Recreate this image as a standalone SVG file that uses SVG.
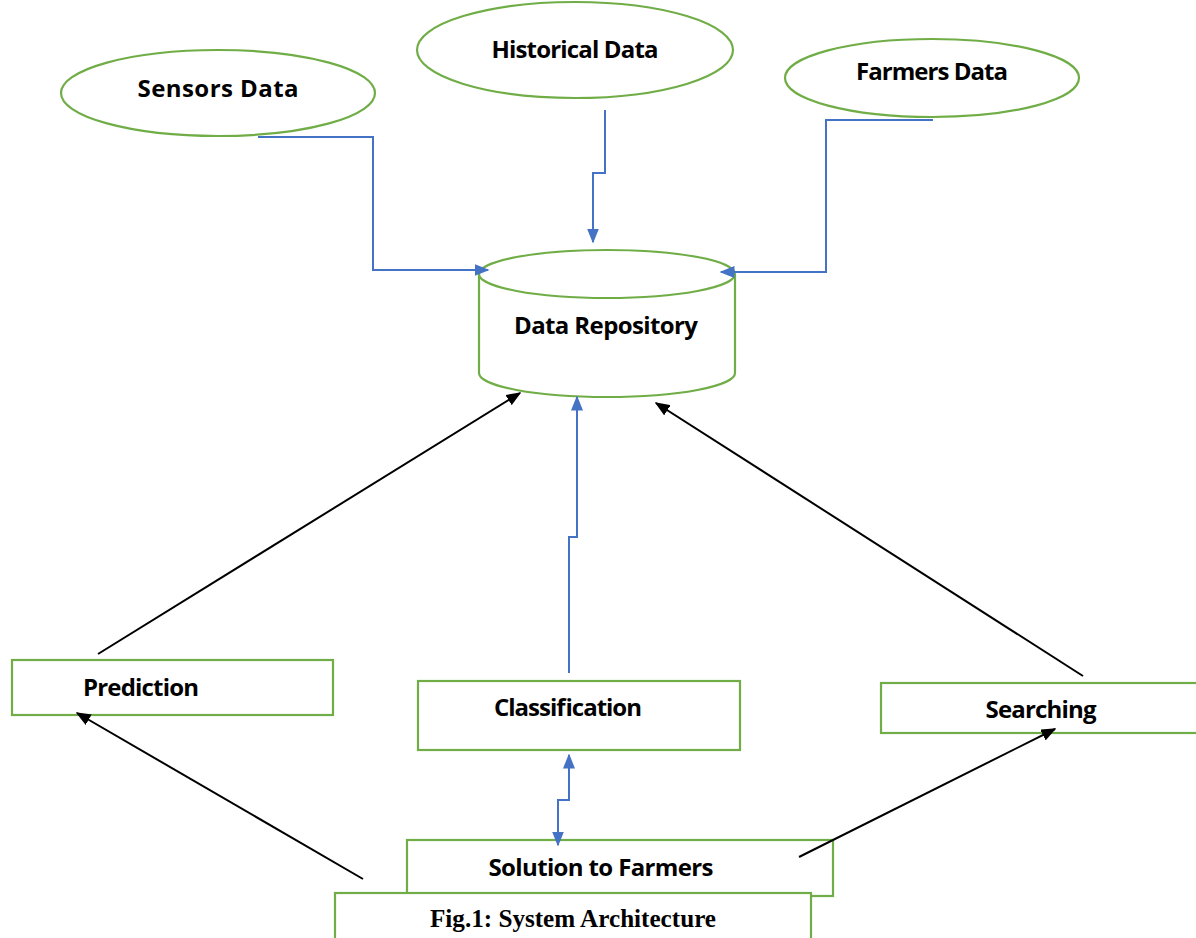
<svg xmlns="http://www.w3.org/2000/svg" width="1196" height="938" viewBox="0 0 1196 938">
<style>
.n{fill:#fff;stroke:#70AD47;stroke-width:2.2}
.t{font-family:"Open Sans","Liberation Sans",sans-serif;font-weight:bold;font-size:24px;fill:#000;text-anchor:middle}
.b{fill:none;stroke:#4472C4;stroke-width:2}
.k{fill:none;stroke:#000;stroke-width:2}
.cap{font-family:"Liberation Serif",serif;font-weight:bold;font-size:26px;fill:#000}
</style>
<defs>
<marker id="ab" viewBox="0 0 10 10" refX="9" refY="5" markerWidth="15" markerHeight="12" markerUnits="userSpaceOnUse" orient="auto" preserveAspectRatio="none"><path d="M0,0L10,5L0,10z" fill="#4472C4"/></marker>
<marker id="abs" viewBox="0 0 10 10" refX="9" refY="5" markerWidth="15" markerHeight="12" markerUnits="userSpaceOnUse" orient="auto-start-reverse" preserveAspectRatio="none"><path d="M0,0L10,5L0,10z" fill="#4472C4"/></marker>
<marker id="ak" viewBox="0 0 10 10" refX="9" refY="5" markerWidth="15" markerHeight="12" markerUnits="userSpaceOnUse" orient="auto" preserveAspectRatio="none"><path d="M0,0L10,5L0,10z" fill="#000"/></marker>
</defs>
<rect width="1196" height="938" fill="#fff"/>
<g id="sensors"><ellipse class="n" cx="218" cy="93" rx="157" ry="43"/><text class="t" x="218" y="97" textLength="161">Sensors Data</text></g>
<g id="historical"><ellipse class="n" cx="575" cy="50" rx="158" ry="48"/><text class="t" x="575" y="58" textLength="167">Historical Data</text></g>
<g id="farmers"><ellipse class="n" cx="932" cy="78" rx="147" ry="39"/><text class="t" x="932" y="80" textLength="152">Farmers Data</text></g>
<g id="repository">
<path class="n" d="M479,274 L479,373 A128,24 0 0 0 735,373 L735,274"/>
<ellipse class="n" cx="607" cy="274" rx="128" ry="24"/>
<text class="t" x="606" y="334" textLength="184">Data Repository</text>
</g>
<g id="prediction"><rect class="n" x="12" y="660" width="321" height="55"/><text class="t" x="141" y="696" textLength="116">Prediction</text></g>
<g id="classification"><rect class="n" x="418" y="681" width="322" height="69"/><text class="t" x="568" y="716" textLength="148">Classification</text></g>
<g id="searching"><rect class="n" x="881" y="683" width="320" height="50"/><text class="t" x="1041" y="718" textLength="111">Searching</text></g>
<g id="solution"><rect class="n" x="407" y="840" width="426" height="56"/><text class="t" x="601" y="876" textLength="225">Solution to Farmers</text></g>
<g id="caption"><rect class="n" x="335" y="893" width="476" height="50"/><text class="cap" x="430" y="927" textLength="286" lengthAdjust="spacingAndGlyphs">Fig.1: System Architecture</text></g>
<g id="connectors">
<path class="b" marker-end="url(#ab)" d="M258,137 H373 V270 H488"/>
<path class="b" marker-end="url(#ab)" d="M605,110 V173 H593 V242"/>
<path class="b" marker-end="url(#ab)" d="M933,120 H826 V272 H721"/>
<path class="b" marker-end="url(#ab)" d="M569,673 V537 H577 V397"/>
<path class="b" marker-start="url(#abs)" marker-end="url(#ab)" d="M569,755 V800 H558 V845"/>
<path class="k" marker-end="url(#ak)" d="M98,654 L520,393"/>
<path class="k" marker-end="url(#ak)" d="M1083,676 L656,403"/>
<path class="k" marker-end="url(#ak)" d="M363,879 L77,713"/>
<path class="k" marker-end="url(#ak)" d="M799,857 L1055,729"/>
</g>
</svg>
